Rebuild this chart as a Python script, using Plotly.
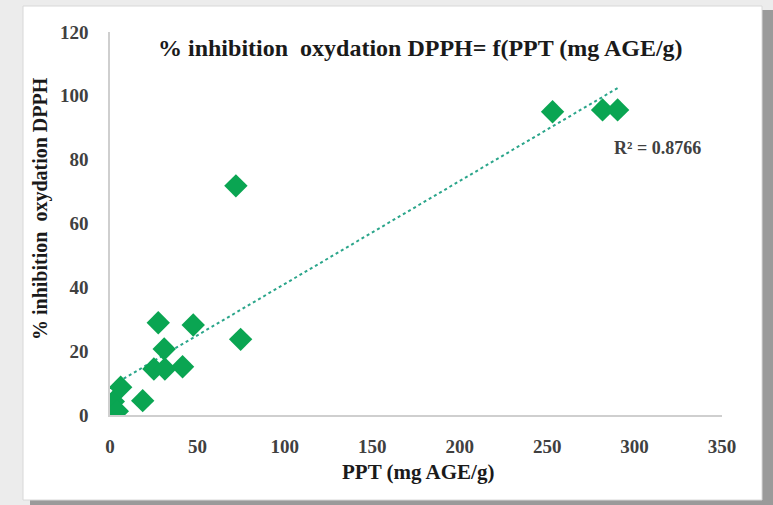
import numpy as np
import plotly.graph_objects as go

# Data
ppt = [1.9, 4.2, 6.1, 18.7, 25.1, 27.6, 31.0, 31.4, 41.5, 47.6, 72.0, 74.7, 253.1, 281.7, 290.3]
inhib = [4.2, 1.2, 8.7, 4.5, 14.4, 28.9, 20.7, 14.4, 15.1, 28.2, 71.8, 23.7, 95.0, 95.6, 95.6]
x_ticks = [0, 50, 100, 150, 200, 250, 300, 350]
y_ticks = [0, 20, 40, 60, 80, 100, 120]
r2_text = "R² = 0.8766"
title_text = "% inhibition  oxydation DPPH= f(PPT (mg AGE/g)"
x_title = "PPT (mg AGE/g)"
y_title = "% inhibition  oxydation DPPH"

W, H = 773, 505
L, R, T, B = 110, 51, 32, 90
pw, ph = W - L - R, H - T - B

def px(xp):
    return (xp - L) / pw

def py(yp):
    return (H - B - yp) / ph

slope, intercept = np.polyfit(ppt, inhib, 1)
xl = np.array([min(ppt), max(ppt)])
yl = slope * xl + intercept

serif = "Liberation Serif"

fig = go.Figure()
fig.add_trace(go.Scatter(x=list(xl), y=list(yl), mode="lines",
                         line=dict(color="#2aa58a", width=2, dash="dot"),
                         hoverinfo="skip", showlegend=False))
fig.add_trace(go.Scatter(x=ppt, y=inhib, mode="markers",
                         marker=dict(symbol="diamond", size=18, color="#0aa552",
                                     line=dict(width=0)),
                         showlegend=False))

shapes = [
    dict(type="rect", xref="paper", yref="paper", x0=px(30), x1=px(773), y0=py(505), y1=py(10),
         fillcolor="#9a9a9a", line=dict(width=0), layer="below"),
    dict(type="rect", xref="paper", yref="paper", x0=px(23), x1=px(762), y0=py(500), y1=py(6),
         fillcolor="white", line=dict(color="#d8d8d8", width=1), layer="below"),
]

fig.update_layout(
    width=W, height=H,
    margin=dict(l=L, r=R, t=T, b=B),
    paper_bgcolor="#ececec",
    plot_bgcolor="rgba(0,0,0,0)",
    shapes=shapes,
    xaxis=dict(range=[0, 350], tickvals=x_ticks, showgrid=False, zeroline=False,
               showline=True, linecolor="#cfcfcf", linewidth=1.5, ticks="",
               ticklabelstandoff=13,
               tickfont=dict(family=serif, size=19, color="#404040", weight="bold")),
    yaxis=dict(range=[0, 120], tickvals=y_ticks, showgrid=False, zeroline=False,
               showline=True, linecolor="#cfcfcf", linewidth=1.5, ticks="",
               ticklabelstandoff=16,
               tickfont=dict(family=serif, size=19, color="#404040", weight="bold")),
    annotations=[
        dict(text=title_text, xref="paper", yref="paper", x=px(420), y=py(48),
             showarrow=False, xanchor="center", yanchor="middle",
             font=dict(family=serif, size=24, color="#1a1a1a", weight="bold")),
        dict(text=x_title, xref="paper", yref="paper", x=px(418), y=py(472),
             showarrow=False, xanchor="center", yanchor="middle",
             font=dict(family=serif, size=21, color="#1a1a1a", weight="bold")),
        dict(text=y_title, xref="paper", yref="paper", x=px(40), y=py(209),
             showarrow=False, xanchor="center", yanchor="middle", textangle=-90,
             font=dict(family=serif, size=20, color="#1a1a1a", weight="bold")),
        dict(text=r2_text, xref="paper", yref="paper", x=px(657), y=py(148),
             showarrow=False, xanchor="center", yanchor="middle",
             font=dict(family=serif, size=18, color="#404040", weight="bold")),
    ],
)

fig.write_html("out.html", config={"displayModeBar": False},
               post_script="document.body.style.margin='0';document.body.style.overflow='hidden';")
